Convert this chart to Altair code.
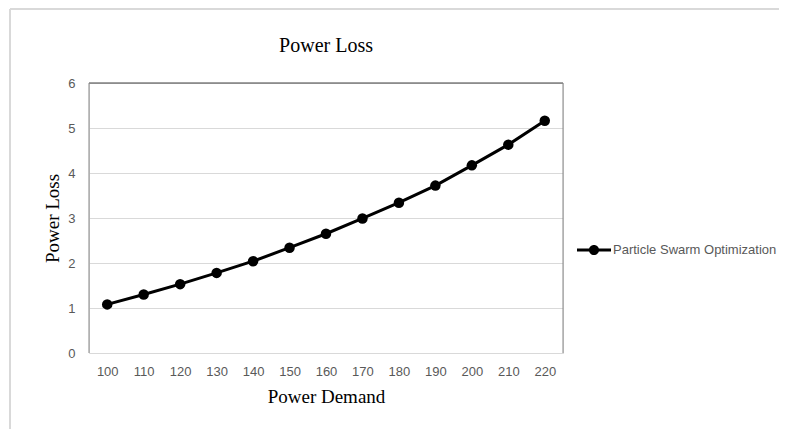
import altair as alt
import pandas as pd

demand = [100, 110, 120, 130, 140, 150, 160, 170, 180, 190, 200, 210, 220]
loss = [1.08, 1.30, 1.53, 1.78, 2.04, 2.34, 2.65, 2.99, 3.34, 3.72, 4.17, 4.63, 5.16]
series = ["Particle Swarm Optimization"] * len(demand)

df = pd.DataFrame({"demand": demand, "loss": loss, "series": series})

W, H = 474, 270
SERIF = "Liberation Serif"
SANS = "Liberation Sans"
GRAY = "#595959"

legend_symbol = (
    "M -1 -0.09 L 1 -0.09 L 1 0.09 L -1 0.09 Z "
    "M 0.3 0 A 0.3 0.3 0 1 1 -0.3 0 A 0.3 0.3 0 1 1 0.3 0 Z"
)

color = alt.Color(
    "series:N",
    scale=alt.Scale(range=["black"]),
    legend=alt.Legend(
        title=None,
        orient="none",
        legendX=488,
        legendY=150,
        symbolType=legend_symbol,
        symbolSize=1156,
        symbolFillColor="black",
        symbolStrokeColor="black",
        symbolStrokeWidth=0,
        labelFont=SANS,
        labelFontSize=13,
        labelColor=GRAY,
        labelOffset=2,
        labelLimit=400,
    ),
)

x = alt.X(
    "demand:O",
    title="Power Demand",
    axis=alt.Axis(
        labelAngle=0,
        labelFont=SANS,
        labelFontSize=13,
        labelColor=GRAY,
        labelPadding=12,
        ticks=False,
        domain=False,
        grid=False,
        titleFont=SERIF,
        titleFontSize=19,
        titleFontWeight="normal",
        titleColor="black",
        titlePadding=9,
    ),
)
y = alt.Y(
    "loss:Q",
    title="Power Loss",
    scale=alt.Scale(domain=[0, 6]),
    axis=alt.Axis(
        values=[0, 1, 2, 3, 4, 5, 6],
        labelFont=SANS,
        labelFontSize=13,
        labelColor=GRAY,
        labelPadding=14,
        ticks=False,
        domain=False,
        gridColor="#d9d9d9",
        titleFont=SERIF,
        titleFontSize=19,
        titleFontWeight="normal",
        titleColor="black",
        titlePadding=5,
    ),
)

one = alt.Data(values=[{"a": 1}])

# outer page frame (left and top edges only)
outer_top = alt.Chart(one).mark_rule(color="#d9d9d9", strokeWidth=2).encode(
    x=alt.value(-79), x2=alt.value(W + 400), y=alt.value(-74)
)
outer_left = alt.Chart(one).mark_rule(color="#d9d9d9", strokeWidth=2).encode(
    x=alt.value(-79), y=alt.value(-74), y2=alt.value(H + 200)
)
# plot-area border
box_top = alt.Chart(one).mark_rule(color="#404040", strokeWidth=1).encode(
    x=alt.value(0), x2=alt.value(W), y=alt.value(0)
)
box_left = alt.Chart(one).mark_rule(color="#868686", strokeWidth=1).encode(
    x=alt.value(0), y=alt.value(0), y2=alt.value(H)
)
box_right = alt.Chart(one).mark_rule(color="#868686", strokeWidth=1).encode(
    x=alt.value(W), y=alt.value(0), y2=alt.value(H)
)

base = alt.Chart(df).encode(x=x, y=y, color=color)
line = base.mark_line(strokeWidth=3)
pts = base.mark_point(filled=True, size=110, opacity=1, shape="circle")

chart = (
    alt.layer(outer_top, outer_left, line, box_top, box_left, box_right, pts)
    .properties(
        width=W,
        height=H,
        autosize=alt.AutoSizeParams(type="none"),
        padding={"left": 81, "top": 75, "right": 216, "bottom": 76},
        title=alt.TitleParams(
            "Power Loss",
            font=SERIF,
            fontSize=20,
            fontWeight="normal",
            color="black",
            anchor="middle",
            frame="group",
            baseline="alphabetic",
            offset=-64,
        ),
    )
    .configure_view(stroke="transparent")
    .configure(background="white")
)

chart.save("out.html", embed_options={"renderer": "svg", "actions": False})
